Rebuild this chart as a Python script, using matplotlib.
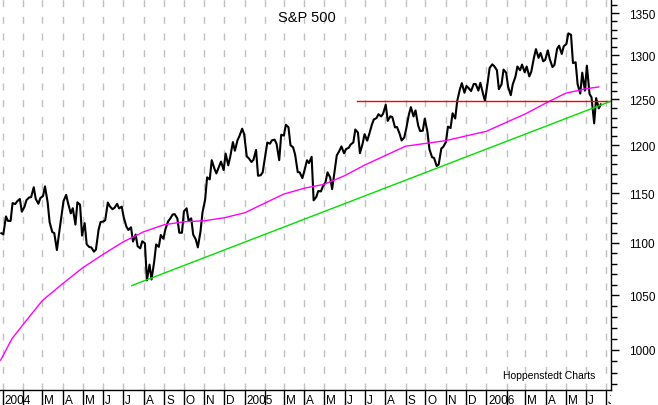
import matplotlib
matplotlib.use('Agg')
import matplotlib.pyplot as plt
import pandas as pd
from matplotlib.ticker import NullFormatter
from matplotlib.transforms import offset_copy

plt.rcParams['font.family'] = ['Liberation Sans', 'DejaVu Sans']

# S&P 500, Tuesday / Friday closes
price_2004 = [1109.6, 1108.5, 1126.3, 1121.9, 1121.8, 1139.8, 1138.8, 1141.6, 1144.0, 1131.1,
              1136.0, 1142.8, 1145.5, 1145.8, 1156.0, 1144.1, 1139.1, 1144.9, 1147.0, 1156.9,
              1140.6, 1120.6, 1110.7, 1109.8, 1093.1, 1108.1, 1127.0, 1141.8, 1148.2, 1139.3,
              1129.4, 1134.6, 1118.2, 1140.6, 1138.1, 1107.3, 1119.6, 1098.7, 1096.0, 1095.7,
              1091.5, 1093.6, 1113.1, 1120.7, 1121.2, 1122.5, 1140.4, 1136.5, 1133.6, 1135.0,
              1139.0, 1134.4, 1136.2, 1125.4, 1116.2, 1112.8, 1115.5, 1101.4, 1108.3, 1096.8,
              1094.8, 1101.7, 1099.7, 1064.0, 1079.0, 1064.8, 1081.7, 1098.6, 1096.2, 1107.8,
              1104.2, 1113.6, 1121.3, 1123.9, 1128.3, 1128.6, 1124.4, 1110.1, 1110.1, 1131.5,
              1134.5, 1122.1, 1124.4, 1108.2, 1103.3, 1095.7, 1111.1, 1130.2, 1143.2, 1166.2,
              1164.1, 1184.2, 1175.4, 1170.3, 1177.2, 1182.7, 1173.8, 1191.2, 1178.8, 1188.0,
              1203.4, 1194.2, 1205.5, 1210.1, 1217.9, 1211.9]
price_2005 = [1188.1, 1186.2, 1182.3, 1184.5, 1195.0, 1167.9, 1168.4, 1171.4, 1189.4, 1203.0,
              1201.7, 1205.3, 1206.1, 1201.6, 1184.2, 1211.4, 1210.4, 1222.1, 1219.4, 1200.1,
              1197.8, 1190.2, 1171.7, 1171.4, 1165.4, 1172.9, 1184.1, 1181.2, 1187.8, 1142.6,
              1146.0, 1152.1, 1151.7, 1156.9, 1161.2, 1171.4, 1166.2, 1154.1, 1173.8, 1189.3,
              1194.2, 1198.8, 1191.5, 1196.0, 1197.3, 1200.9, 1203.0, 1217.0, 1213.6, 1191.6,
              1201.6, 1211.9, 1205.0, 1211.9, 1222.2, 1227.9, 1229.4, 1233.7, 1231.2, 1234.2,
              1244.1, 1226.4, 1231.4, 1230.4, 1219.3, 1219.7, 1212.3, 1205.1, 1208.4, 1218.0,
              1233.4, 1241.5, 1231.2, 1237.9, 1221.3, 1215.3, 1215.7, 1228.8, 1214.5, 1195.9,
              1187.3, 1186.6, 1178.1, 1179.6, 1196.5, 1198.4, 1203.6, 1220.1, 1218.6, 1234.7,
              1229.0, 1248.3, 1261.2, 1268.3, 1257.5, 1265.1, 1262.1, 1259.4, 1267.4, 1267.3,
              1259.9, 1268.7, 1256.5, 1248.3]
price_2006 = [1268.8, 1285.5, 1289.7, 1287.6, 1283.0, 1261.5, 1266.9, 1283.7, 1280.1, 1264.0,
              1254.8, 1267.0, 1275.5, 1287.2, 1283.0, 1289.4, 1280.7, 1287.2, 1275.9, 1281.4,
              1297.5, 1307.3, 1297.2, 1302.9, 1293.2, 1294.8, 1305.9, 1295.5, 1286.6, 1289.1,
              1307.7, 1311.3, 1301.7, 1310.6, 1313.2, 1325.8, 1324.1, 1291.2, 1292.1, 1267.0,
              1256.6, 1280.2, 1259.9, 1288.2, 1256.2, 1252.3, 1223.7, 1251.5, 1240.1, 1244.5]

# 200 day average (magenta)
ma_dates = ['2003-12-29', '2004-01-15', '2004-02-01', '2004-03-01', '2004-04-01', '2004-05-01',
            '2004-06-01', '2004-07-01', '2004-08-01', '2004-09-01', '2004-10-01', '2004-11-01',
            '2004-12-01', '2005-01-01', '2005-02-01', '2005-03-01', '2005-04-01', '2005-05-01',
            '2005-06-01', '2005-07-01', '2005-08-01', '2005-09-01', '2005-10-01', '2005-11-01',
            '2005-12-01', '2006-01-01', '2006-02-01', '2006-03-01', '2006-04-01', '2006-05-01',
            '2006-06-01', '2006-06-20']
ma_values = [991, 1010, 1023, 1045, 1061, 1076, 1089, 1101, 1111, 1118, 1121, 1122,
             1125, 1130, 1140, 1149, 1155, 1159, 1168, 1179, 1189, 1199, 1202, 1205,
             1210, 1215, 1225, 1234, 1246, 1257, 1262, 1264]

# drawn lines
red_dates = ['2005-06-19', '2006-07-08']
red_values = [1248, 1248]
green_dates = ['2004-07-14', '2006-07-08']
green_values = [1059, 1248]

prices = price_2004 + price_2005 + price_2006
tue = pd.date_range('2003-12-30', '2006-06-20', freq='W-TUE')
fri = pd.date_range('2004-01-02', '2006-06-23', freq='W-FRI')
dates = tue.union(fri)

W, H = 658, 406
x0, x1 = pd.Timestamp('2003-12-28'), pd.Timestamp('2006-07-08')

fig = plt.figure(figsize=(W / 100, H / 100), dpi=100)
ax = fig.add_axes([0, 15 / H, 610.7 / W, 391 / H])
ax.set_yscale('log')
ax.set_ylim(965, 1367)
ax.set_xlim(x0, x1)

months = pd.date_range('2004-01-01', '2006-07-01', freq='MS')
for m in months:
    ax.axvline(m, color='#c0c0c0', lw=1, ls=(0, (5, 7)), zorder=0)

ax.plot(dates, prices, color='black', lw=1.5)
ax.plot(pd.to_datetime(ma_dates), ma_values, color='#ff00ff', lw=1)
ax.plot(pd.to_datetime(red_dates), red_values, color='#ff0000', lw=1)
ax.plot(pd.to_datetime(green_dates), green_values, color='#00e000', lw=1)

ax.spines['top'].set_visible(False)
ax.spines['left'].set_visible(False)
ax.spines['right'].set_linewidth(1)
ax.spines['bottom'].set_linewidth(1)
ax.set_xticks([])
ax.yaxis.tick_right()
major = list(range(1000, 1351, 50))
ax.set_yticks(major, labels=[str(v) for v in major])
ax.set_yticks(list(range(970, 1361, 10)), minor=True)
ax.yaxis.set_minor_formatter(NullFormatter())
ax.tick_params(axis='y', which='major', length=6, width=1, pad=7, labelsize=8.5)
ax.tick_params(axis='y', which='minor', length=4, width=1)

# month row under the chart
lab = fig.add_axes([0, 0, 610.7 / W, 15 / H])
lab.set_xlim(x0, x1)
lab.set_ylim(0, 1)
lab.axis('off')
names = 'JFMAMJJASOND'
shift = offset_copy(lab.transData, fig=fig, x=2, y=0, units='dots')
for m in months:
    if m.month == 1:
        s = str(m.year)
    elif m.month == 2:
        s = ''
    else:
        s = names[m.month - 1]
    lab.axvline(m, color='black', lw=1)
    lab.text(m, 0.13, s, transform=shift, fontsize=8.5, va='baseline', ha='left', clip_on=True)

fig.text(307 / W, 1 - 21.7 / H, 'S&P 500', ha='center', va='baseline', fontsize=10.5)
fig.text(502.7 / W, 1 - 379.5 / H, 'Hoppenstedt Charts', ha='left', va='baseline', fontsize=7.5)

fig.savefig('out.png', dpi=100)
